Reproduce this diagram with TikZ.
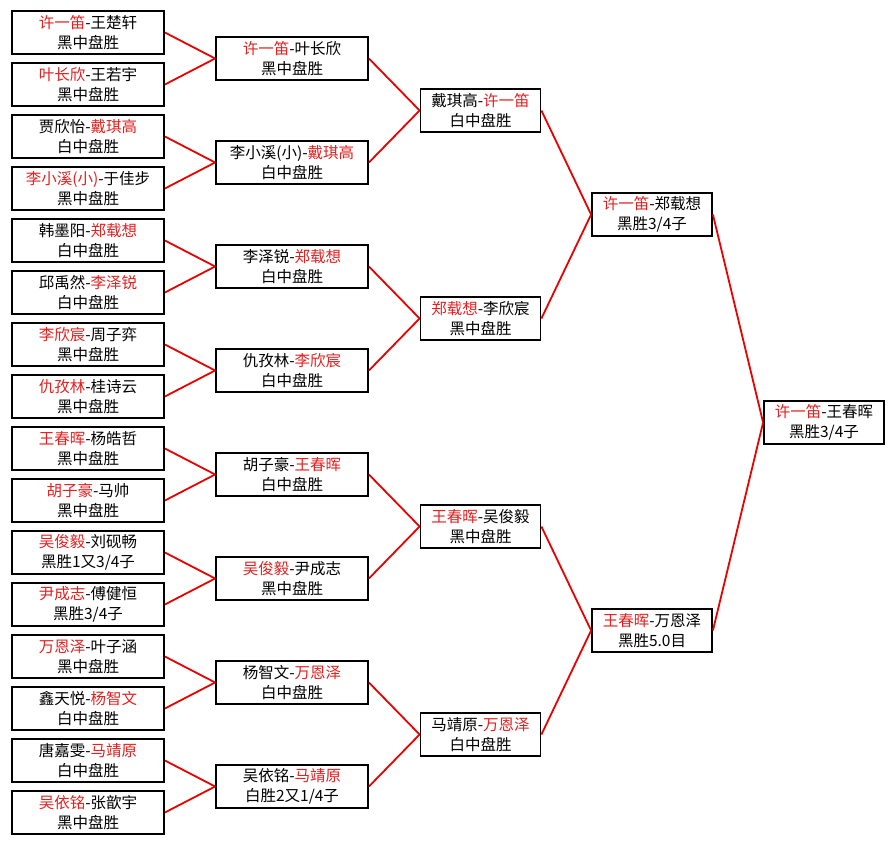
\documentclass[tikz,border=0pt]{standalone}
\usepackage{fontspec}
\setmainfont{Noto Sans CJK SC}
\usepackage{tikz}
\usetikzlibrary{trees}
\definecolor{winred}{RGB}{228,32,32}
\definecolor{linered}{RGB}{235,0,0}
\newcommand{\win}[1]{\textcolor{winred}{#1}}

\begin{document}
\begin{tikzpicture}[grow=left,
        every node/.style={draw=black, line width=1.8pt, fill=white, inner sep=0pt,
          minimum width=120pt, minimum height=43pt, align=center,
          font=\fontsize{15.5}{19.5}\selectfont},
        edge from parent/.style={draw=linered, line width=1.8pt},
        edge from parent path={(\tikzparentnode.west) -- (\tikzchildnode.east)},
        level 1/.style={level distance=172pt, sibling distance=416pt},
        level 2/.style={level distance=171.5pt, sibling distance=208pt},
        level 3/.style={level distance=188.5pt, sibling distance=104pt,
          nodes={minimum width=152pt}},
        level 4/.style={level distance=204pt, sibling distance=52pt}]
    \useasboundingbox (0,0) rectangle (896pt,-845pt);
    \node (f) at (824pt,-422.5pt) {\win{许一笛}-王春晖\\黑胜3/4子}
    child {node (s1) {\win{许一笛}-郑载想\\黑胜3/4子}
      child {node (q1) {戴琪高-\win{许一笛}\\白中盘胜}
        child {node (e1) {\win{许一笛}-叶长欣\\黑中盘胜}
          child {node (p1) {\win{许一笛}-王楚轩\\黑中盘胜}}
          child {node (p2) {\win{叶长欣}-王若宇\\黑中盘胜}}
        }
        child {node (e2) {李小溪(小)-\win{戴琪高}\\白中盘胜}
          child {node (p3) {贾欣怡-\win{戴琪高}\\白中盘胜}}
          child {node (p4) {\win{李小溪(小)}-于佳步\\黑中盘胜}}
        }
      }
      child {node (q2) {\win{郑载想}-李欣宸\\黑中盘胜}
        child {node (e3) {李泽锐-\win{郑载想}\\白中盘胜}
          child {node (p5) {韩墨阳-\win{郑载想}\\白中盘胜}}
          child {node (p6) {邱禹然-\win{李泽锐}\\白中盘胜}}
        }
        child {node (e4) {仇孜林-\win{李欣宸}\\白中盘胜}
          child {node (p7) {\win{李欣宸}-周子弈\\黑中盘胜}}
          child {node (p8) {\win{仇孜林}-桂诗云\\黑中盘胜}}
        }
      }
    }
    child {node (s2) {\win{王春晖}-万恩泽\\黑胜5.0目}
      child {node (q3) {\win{王春晖}-吴俊毅\\黑中盘胜}
        child {node (e5) {胡子豪-\win{王春晖}\\白中盘胜}
          child {node (p9) {\win{王春晖}-杨皓哲\\黑中盘胜}}
          child {node (p10) {\win{胡子豪}-马帅\\黑中盘胜}}
        }
        child {node (e6) {\win{吴俊毅}-尹成志\\黑中盘胜}
          child {node (p11) {\win{吴俊毅}-刘砚畅\\黑胜1又3/4子}}
          child {node (p12) {\win{尹成志}-傅健恒\\黑胜3/4子}}
        }
      }
      child {node (q4) {马靖原-\win{万恩泽}\\白中盘胜}
        child {node (e7) {杨智文-\win{万恩泽}\\白中盘胜}
          child {node (p13) {\win{万恩泽}-叶子涵\\黑中盘胜}}
          child {node (p14) {鑫天悦-\win{杨智文}\\白中盘胜}}
        }
        child {node (e8) {吴依铭-\win{马靖原}\\白胜2又1/4子}
          child {node (p15) {唐嘉雯-\win{马靖原}\\白中盘胜}}
          child {node (p16) {\win{吴依铭}-张歆宇\\黑中盘胜}}
        }
      }
    };
\end{tikzpicture}
\end{document}
